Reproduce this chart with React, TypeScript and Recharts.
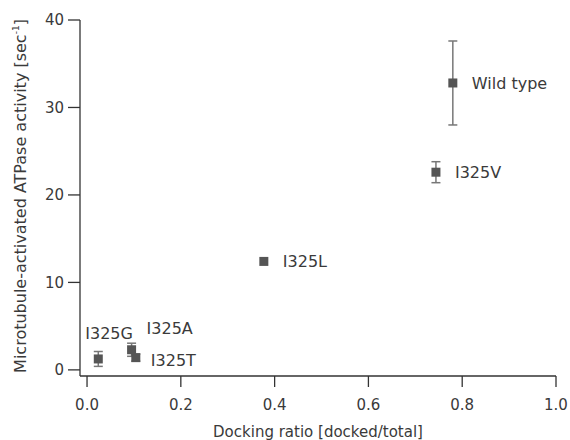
import React from 'react';
import { ErrorBar, LabelList, Scatter, ScatterChart, XAxis, YAxis } from 'recharts';

const names = ['Wild type', 'I325V', 'I325L', 'I325G', 'I325A', 'I325T'];
const dockingRatio = [0.78, 0.744, 0.377, 0.024, 0.095, 0.104];
const activity = [32.8, 22.6, 12.4, 1.25, 2.3, 1.4];
const activityErr = [4.8, 1.2, 0, 0.85, 0.75, 0.4];
const xTicks = [0, 0.2, 0.4, 0.6, 0.8, 1.0];
const yTicks = [0, 10, 20, 30, 40];

const data = names.map((name, i) => ({
  name,
  x: dockingRatio[i],
  y: activity[i],
  err: activityErr[i]
}));

// label placement around each point (text start dx, center dy)
const labelOffsets: Record<string, [number, number]> = {
  'Wild type': [19, 0],
  I325V: [19, 0],
  I325L: [19, 0],
  I325G: [-13, -26],
  I325A: [15, -22],
  I325T: [15, 3]
};

const FONT = '"DejaVu Sans", Verdana, sans-serif';
const INK = '#3a3a3a';

const SquareDot = (props: any) => {
  const { cx, cy } = props;
  return <rect x={cx - 4.5} y={cy - 4.5} width={9} height={9} fill="#555" />;
};

const PointLabel = (props: any) => {
  const { x, y, width, height, value } = props;
  const cx = x + width / 2;
  const cy = y + height / 2;
  const [dx, dy] = labelOffsets[value] || [15, 0];
  return (
    <text x={cx + dx} y={cy + dy} dy="0.36em" fontSize={16} fontFamily={FONT} fill={INK}>
      {value}
    </text>
  );
};

const XTitle = (props: any) => {
  const { viewBox } = props;
  const x = viewBox.x + viewBox.width / 2;
  return (
    <text x={x} y={437} textAnchor="middle" fontSize={15} fontFamily={FONT} fill={INK}>
      Docking ratio [docked/total]
    </text>
  );
};

const YTitle = (props: any) => {
  const { viewBox } = props;
  const x = viewBox.x + 20;
  const y = viewBox.y + viewBox.height / 2 - 2;
  return (
    <text
      x={x}
      y={y}
      transform={`rotate(-90 ${x} ${y})`}
      textAnchor="middle"
      dy="0.36em"
      fontSize={16}
      fontFamily={FONT}
      fill={INK}
    >
      Microtubule-activated ATPase activity [sec
      <tspan fontSize={9} dy={-7}>-1</tspan>
      <tspan dy={7}>]</tspan>
    </text>
  );
};

export default function App() {
  return (
    <div style={{ position: 'absolute', left: 0, top: 0, background: '#fff' }}>
      <ScatterChart width={570} height={440} margin={{ top: 20, right: 14, bottom: 0, left: 0 }}>
        <XAxis
          type="number"
          dataKey="x"
          domain={[-0.015, 1.0]}
          ticks={xTicks}
          tickFormatter={(v: number) => v.toFixed(1)}
          height={64}
          stroke="#333"
          strokeWidth={1.3}
          tickSize={11}
          tickMargin={12}
          tick={{ fontSize: 15, fontFamily: FONT, fill: INK }}
          label={<XTitle />}
        />
        <YAxis
          type="number"
          dataKey="y"
          domain={[-0.7, 40]}
          ticks={yTicks}
          width={80}
          stroke="#333"
          strokeWidth={1.3}
          tickSize={12}
          tickMargin={4}
          tick={{ fontSize: 15, fontFamily: FONT, fill: INK }}
          label={<YTitle />}
        />
        <Scatter data={data} shape={<SquareDot />} isAnimationActive={false}>
          <ErrorBar dataKey="err" direction="y" width={4.5} stroke="#777" strokeWidth={1.5} />
          <LabelList dataKey="name" content={<PointLabel />} />
        </Scatter>
      </ScatterChart>
    </div>
  );
}
